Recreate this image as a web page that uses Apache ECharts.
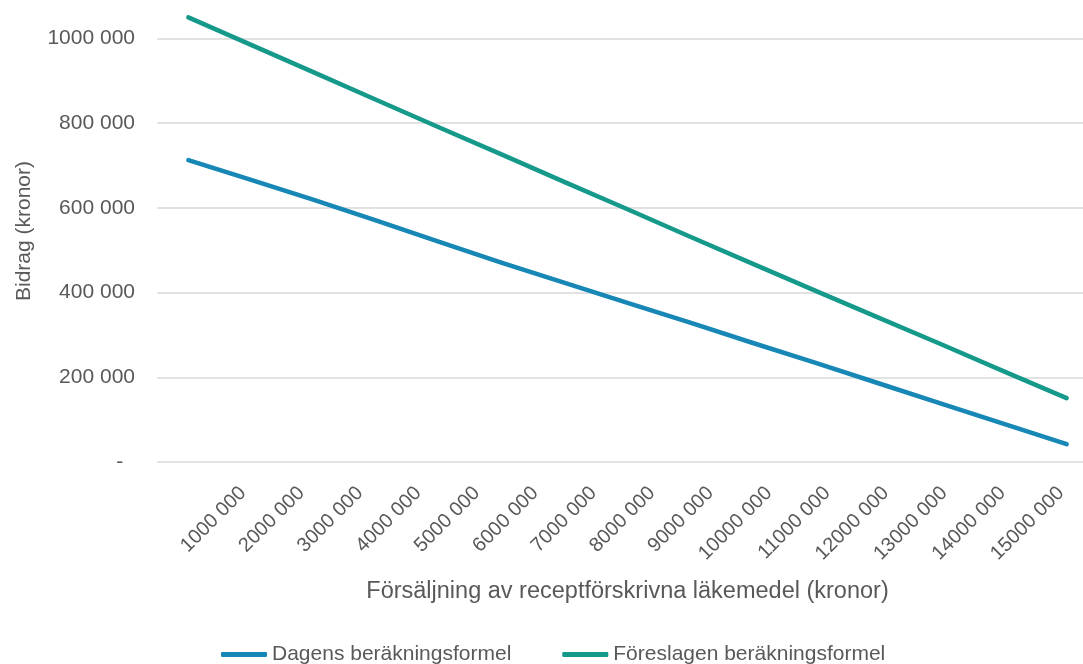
<!DOCTYPE html>
<html>
<head>
<meta charset="utf-8">
<script src="https://cdn.jsdelivr.net/npm/echarts@6/dist/echarts.min.js"></script>
<style>
html,body{margin:0;padding:0;background:#fff;}
#chart{width:1083px;height:664px;}
</style>
</head>
<body>
<div id="chart"></div>
<script>
// Data
const categories = ['1000 000','2000 000','3000 000','4000 000','5000 000','6000 000','7000 000','8000 000','9000 000','10000 000','11000 000','12000 000','13000 000','14000 000','15000 000'];
const dagens = [713000, 666000, 619000, 570000, 520000, 470000, 423000, 376000, 329000, 281000, 234000, 186000, 138000, 90000, 42000];
const foreslagen = [1050000, 985000, 920000, 855000, 790000, 726000, 661000, 597000, 532000, 468000, 404000, 341000, 278000, 214000, 151000];
const seriesNames = ['Dagens beräkningsformel', 'Föreslagen beräkningsformel'];
const yTicks = [0, 200000, 400000, 600000, 800000, 1000000];

const FONT = "'Liberation Sans', Arial, sans-serif";
const TXT = '#595959';
const GRID = '#d9d9d9';
const chart = echarts.init(document.getElementById('chart'), null, {renderer: 'canvas'});
chart.setOption({
  animation: false,
  backgroundColor: '#ffffff',
  textStyle: {fontFamily: FONT, color: TXT},
  grid: [
    {left: 157, width: 941, top: 0, bottom: 202, outerBoundsMode: 'none', containLabel: false},
    {left: 243, right: 22, top: 0, bottom: 202, outerBoundsMode: 'none', containLabel: false}
  ],
  legend: {
    left: 216, top: 639,
    itemWidth: 46, itemHeight: 5, itemGap: 51,
    icon: 'roundRect',
    data: seriesNames,
    textStyle: {fontFamily: FONT, fontSize: 21, color: TXT}
  },
  xAxis: [
    {
      type: 'category', gridIndex: 0, data: categories, boundaryGap: true,
      axisLine: {show: false}, axisTick: {show: false}, axisLabel: {show: false},
      splitLine: {show: false},
      name: 'Försäljning av receptförskrivna läkemedel (kronor)',
      nameLocation: 'middle', nameGap: 118,
      nameTextStyle: {fontFamily: FONT, fontSize: 23.5, color: TXT}
    },
    {
      type: 'category', gridIndex: 1, data: categories, boundaryGap: false,
      axisLine: {show: false}, axisTick: {show: false}, splitLine: {show: false},
      axisLabel: {rotate: 45, margin: 28, interval: 0, fontFamily: FONT, fontSize: 20, color: TXT}
    }
  ],
  yAxis: [
    {
      type: 'value', gridIndex: 0, min: 0, max: 1091000, interval: 200000,
      axisLine: {show: false}, axisTick: {show: false},
      splitLine: {lineStyle: {color: [GRID, GRID, GRID, GRID, GRID, GRID, 'rgba(0,0,0,0)'], width: 1.5}},
      axisLabel: {
        margin: 22, fontFamily: FONT, fontSize: 21, color: TXT,
        formatter: function (v) {
          if (yTicks.indexOf(v) < 0) return '';
          if (v === 0) return '-  ';
          return (v / 1000) + ' 000';
        }
      },
      name: 'Bidrag (kronor)', nameLocation: 'middle', nameGap: 122,
      nameTextStyle: {fontFamily: FONT, fontSize: 21, color: TXT}
    },
    {type: 'value', gridIndex: 1, show: false, min: 0, max: 1}
  ],
  series: [
    {
      name: seriesNames[0], type: 'line', xAxisIndex: 0, yAxisIndex: 0,
      data: dagens, symbol: 'none', color: '#1787b5',
      lineStyle: {width: 4.5, cap: 'round', join: 'round', color: '#1787b5'}
    },
    {
      name: seriesNames[1], type: 'line', xAxisIndex: 0, yAxisIndex: 0,
      data: foreslagen, symbol: 'none', color: '#15998a',
      lineStyle: {width: 4.5, cap: 'round', join: 'round', color: '#15998a'}
    }
  ]
});
</script>
</body>
</html>
